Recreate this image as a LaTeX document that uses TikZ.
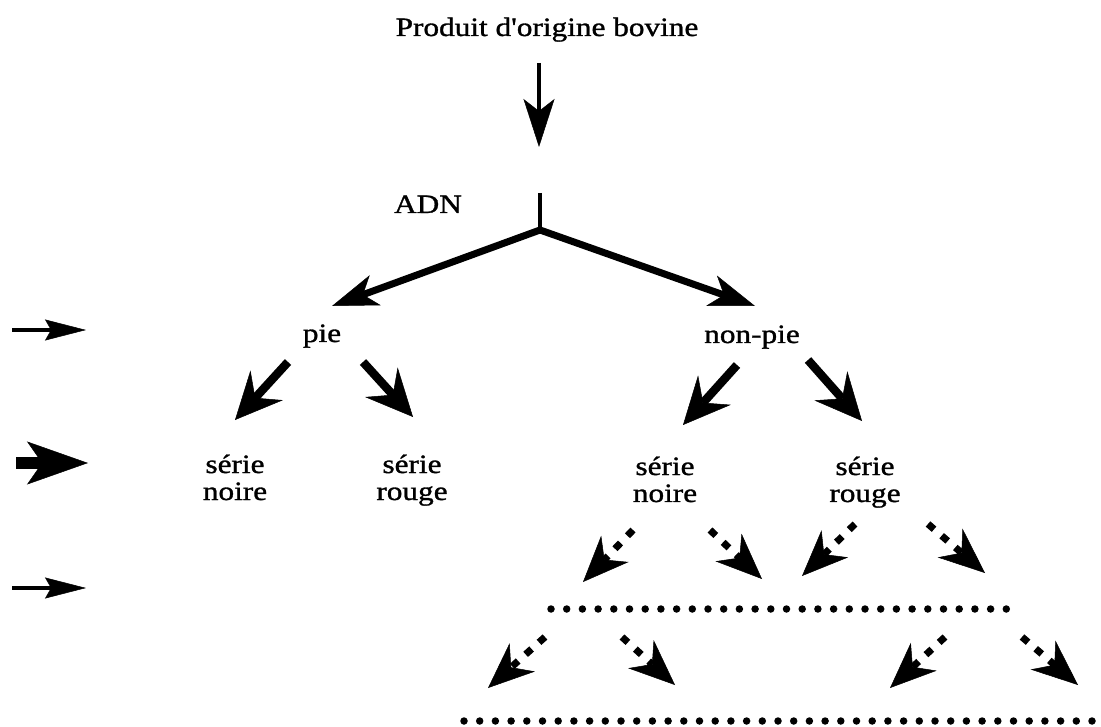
\documentclass[tikz,border=0pt]{standalone}
\usepackage{fontspec}
\setmainfont{Liberation Serif}[FakeStretch=1.18,FakeBold=1.2,Ligatures=TeXOff]
\usetikzlibrary{arrows.meta}
\begin{document}
\begin{tikzpicture}[x=1pt,y=-1pt,
  lbl/.style={anchor=base,inner sep=0pt,font=\fontsize{26.5}{27}\selectfont},
  twoline/.style={lbl},
  mainarrow/.style={line width=4.5pt,-{Stealth[length=48pt,width=31pt,inset=12pt,line width=0.5pt]}},
  treearrow/.style={line width=7pt,-{Stealth[length=46pt,width=32pt,inset=13pt,line width=0.5pt]}},
  stem/.style={line width=4.5pt},
  subarrow/.style={line width=8.5pt,-{Stealth[length=47pt,width=44pt,inset=17pt,line width=0.5pt]}},
  dasharrow/.style={line width=7pt,dash pattern=on 8pt off 10pt,-{Stealth[length=46pt,width=38pt,inset=15pt,line width=0.5pt]}},
  dotline/.style={line width=7.5pt,line cap=round,dash pattern=on 0pt off 15.7pt},
  thinmark/.style={line width=4pt,-{Stealth[length=41pt,width=21pt,inset=6pt,line width=0.5pt]}},
  thickmark/.style={line width=12pt,-{Stealth[length=61pt,width=43pt,inset=15pt,line width=0.5pt]}},
]
\useasboundingbox[fill=white] (0,0) rectangle (1101,727);

% texts
\node[lbl] (prod) at (547,36) {Produit d'origine bovine};
\node[lbl] (adn) at (428,213) {ADN};
\node[lbl] (pie) at (322,342) {pie};
\node[lbl] (nonpie) at (752,343) {non-pie};
\node[twoline] (sn1) at (235,473) {\begin{tabular}[t]{@{}c@{}}série\\noire\end{tabular}};
\node[twoline] (sr1) at (412,473) {\begin{tabular}[t]{@{}c@{}}série\\rouge\end{tabular}};
\node[twoline] (sn2) at (665,475) {\begin{tabular}[t]{@{}c@{}}série\\noire\end{tabular}};
\node[twoline] (sr2) at (865,475) {\begin{tabular}[t]{@{}c@{}}série\\rouge\end{tabular}};

% main arrow and tree
\coordinate (m0) at (539,63);
\coordinate (m1) at (539,147);
\draw[mainarrow] (m0) -- (m1);
\coordinate (s0) at (540,193);
\coordinate (j) at (540,230);
\coordinate (tl) at (332,306);
\coordinate (tr) at (755,306);
\draw[stem] (s0) -- (j);
\draw[treearrow] (j) -- (tl);
\draw[treearrow] (j) -- (tr);

% level 2 arrows
\coordinate (p1a) at (288,362); \coordinate (p1b) at (235,420);
\coordinate (p2a) at (363,362); \coordinate (p2b) at (413,417);
\coordinate (n1a) at (737,365); \coordinate (n1b) at (683,425);
\coordinate (n2a) at (808,360); \coordinate (n2b) at (862,421);
\draw[subarrow] (p1a) -- (p1b);
\draw[subarrow] (p2a) -- (p2b);
\draw[subarrow] (n1a) -- (n1b);
\draw[subarrow] (n2a) -- (n2b);

% dashed arrows row 1
\coordinate (a1a) at (633,530); \coordinate (a1b) at (583,582);
\coordinate (a2a) at (710,530); \coordinate (a2b) at (762,579);
\coordinate (a3a) at (855,524); \coordinate (a3b) at (802,576);
\coordinate (a4a) at (928,524); \coordinate (a4b) at (985,573);
\draw[dasharrow] (a1a) -- (a1b);
\draw[dasharrow] (a2a) -- (a2b);
\draw[dasharrow] (a3a) -- (a3b);
\draw[dasharrow] (a4a) -- (a4b);

% dotted line 1
\coordinate (d1a) at (551,609); \coordinate (d1b) at (1015,609);
\draw[dotline] (d1a) -- (d1b);

% dashed arrows row 2
\coordinate (b1a) at (545,637); \coordinate (b1b) at (488,688);
\coordinate (b2a) at (622,637); \coordinate (b2b) at (675,685);
\coordinate (b3a) at (945,637); \coordinate (b3b) at (890,688);
\coordinate (b4a) at (1022,637); \coordinate (b4b) at (1078,685);
\draw[dasharrow] (b1a) -- (b1b);
\draw[dasharrow] (b2a) -- (b2b);
\draw[dasharrow] (b3a) -- (b3b);
\draw[dasharrow] (b4a) -- (b4b);

% dotted line 2
\coordinate (d2a) at (464,721); \coordinate (d2b) at (1110,721);
\draw[dotline] (d2a) -- (d2b);

% left margin arrows
\coordinate (l1a) at (12,330); \coordinate (l1b) at (86,330);
\coordinate (l2a) at (16,463); \coordinate (l2b) at (88,463);
\coordinate (l3a) at (12,588); \coordinate (l3b) at (86,588);
\draw[thinmark] (l1a) -- (l1b);
\draw[thickmark] (l2a) -- (l2b);
\draw[thinmark] (l3a) -- (l3b);
\end{tikzpicture}
\end{document}
